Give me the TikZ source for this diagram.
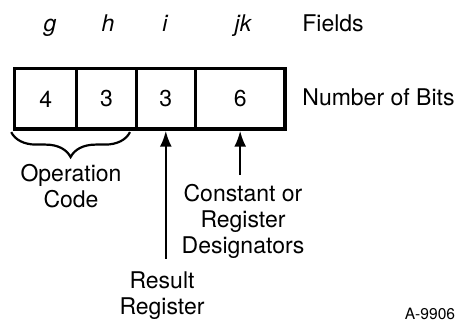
\documentclass[tikz,border=0pt]{standalone}
\usepackage{fontspec}
\setmainfont{TeX Gyre Heros}
\usetikzlibrary{arrows.meta,decorations.pathreplacing}
\begin{document}
\begin{tikzpicture}[x=0.5pt,y=-0.5pt,
    txt/.style={font=\fontsize{11.5}{13}\selectfont,inner sep=0pt},
    cell/.style={txt,draw,line width=1.7pt,minimum height=30.15pt},
    fieldname/.style={txt,font=\fontsize{11.5}{13}\selectfont\itshape,anchor=base},
    arr/.style={line width=1.2pt,-{Latex[length=8pt,width=6pt]}},
    brace/.style={decorate,line width=1.1pt,decoration={brace,mirror,amplitude=12.5pt}}]
    \useasboundingbox (0,0) rectangle (459,320);
    % instruction word: field letters and bit counts
    \foreach \name/\x/\w/\bits/\lx in {g/45.7/31/4/50,h/106.5/29.8/3/108,i/165.8/29.5/3/165,jk/240.15/44.85/6/243}
    {
        \node[cell,minimum width=\w pt] (c\name) at (\x,98.85) {\bits};
        \node[fieldname] (f\name) at (\lx,32) {\name};
    }
    \node[txt,anchor=base west] (fields) at (302,32) {Fields};
    \node[txt,anchor=base west] (nbits) at (302,106) {Number of Bits};
    % what the fields hold
    \draw[brace] ([xshift=-0.9pt,yshift=-0.7pt]cg.south west) -- ([xshift=-4pt,yshift=-0.7pt]ch.south east);
    \node[txt,align=center,anchor=north] (opcode) at (71,164) {Operation\\Code};
    \node[txt,align=center,anchor=north] (const) at (243,184) {Constant or\\Register\\Designators};
    \node[txt,align=center,anchor=north] (result) at (162,271.5) {Result\\Register};
    \draw[arr,shorten <=4.5pt] (const.north -| cjk.south) -- (cjk.south);
    \draw[arr,shorten <=6.5pt] (result.north -| ci.south) -- (ci.south);
    \node[inner sep=0pt,anchor=base,font=\fontsize{7.8}{9}\selectfont] (fignum) at (430,319.5) {A-9906};
\end{tikzpicture}
\end{document}
